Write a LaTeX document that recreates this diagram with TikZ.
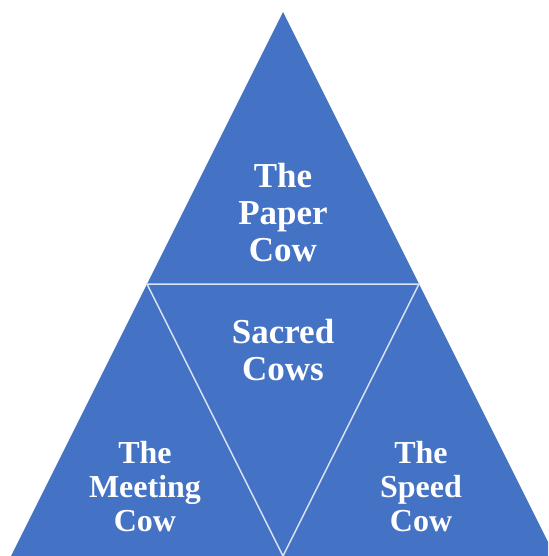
\documentclass[tikz,border=0pt]{standalone}
\usepackage{fontspec}
\setmainfont{Liberation Serif}
\definecolor{cowblue}{HTML}{4472C4}
\begin{document}
\begin{tikzpicture}[x=1pt,y=-1pt,
		cowtext/.style={text=white,font=\bfseries\fontsize{35}{37}\selectfont,align=center,inner sep=0pt},
		smallcow/.style={cowtext,font=\bfseries\fontsize{32}{34}\selectfont}]
				\useasboundingbox (0,0) rectangle (548,556);
				\clip (0,0) rectangle (548,556);
				\coordinate (a0) at (283,12);
				\coordinate (a1) at (11,556);
				\coordinate (a2) at (555,556);
				\coordinate (b0) at (147,284);
				\coordinate (b1) at (419,284);
				\coordinate (b2) at (283,556);
				%
				\fill[cowblue] (a0) -- (a1) -- (a2) -- cycle;
				\draw[white!80!cowblue,line width=1.5pt] (b0) -- (b1) -- (b2) -- cycle;
				%
				\node[cowtext] (paper) at (283,213) {The\\Paper\\Cow};
				\node[cowtext] (sacred) at (283,350) {Sacred\\Cows};
				\node[smallcow] (meeting) at (145,487) {The\\Meeting\\Cow};
				\node[smallcow] (speed) at (421,487) {The\\Speed\\Cow};
			\end{tikzpicture}
\end{document}
